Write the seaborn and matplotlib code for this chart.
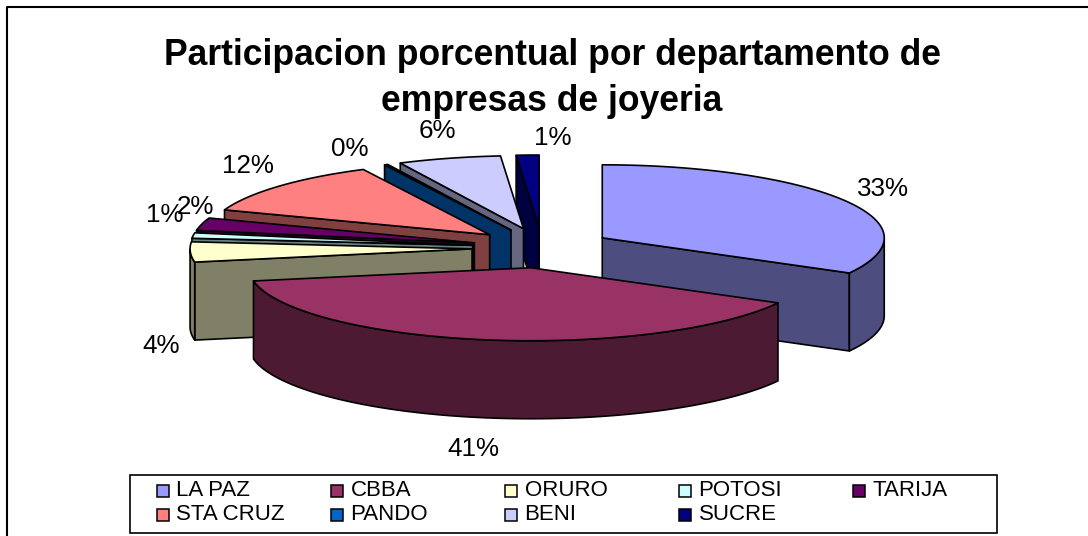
import numpy as np
import matplotlib
matplotlib.use("Agg")
import matplotlib.pyplot as plt
from matplotlib.patches import Polygon, Rectangle
from matplotlib.lines import Line2D
import seaborn as sns

departments = ["LA PAZ", "CBBA", "ORURO", "POTOSI", "TARIJA", "STA CRUZ", "PANDO", "BENI", "SUCRE"]
shares = [33.0, 40.6, 3.8, 1.0, 2.4, 11.8, 0.2, 5.9, 1.3]
slice_colors = ["#9999FF", "#993366", "#FFFFCC", "#CCFFFF", "#660066", "#FF8080", "#0066CC", "#CCCCFF", "#000080"]
title_text = "Participacion porcentual por departamento de\nempresas de joyeria"

sns.set_theme(style="white")
plt.rcParams["font.family"] = ["Liberation Sans", "DejaVu Sans"]
palette = sns.color_palette(slice_colors)

# pie geometry in pixels
CX, CY, RX, RY, DEPTH, EXPLODE_X, EXPLODE_Y = 542.0, 248.0, 282.0, 73.0, 78.0, 70.0, 20.0
label_pos = [(883, 189), (473, 449), (161, 346), (165, 215), (195, 207), (248, 166), (350, 149), (437, 131), (553, 138)]


def view_angle(t):
    """Excel's 3-D view squeezes the angles on the far left of the pie a little."""
    return t - np.radians(5.5) * np.exp(-((t - np.radians(262)) / np.radians(22)) ** 2)


fig = plt.figure(figsize=(10.88, 5.36), dpi=100)
ax = fig.add_axes([0, 0, 1, 1])
ax.set_xlim(0, 1088)
ax.set_ylim(536, 0)
ax.axis("off")

# chart frame: only the left and top borders are inside the picture
ax.add_line(Line2D([7, 7, 1088], [536, 6.5, 6.5], color="black", lw=1.5, zorder=1))

edges = view_angle(np.cumsum([0.0] + shares) / sum(shares) * 2 * np.pi)


def darker(c):
    return tuple(v * 0.5 for v in c)


wedges = []
for i, (a, b) in enumerate(zip(edges[:-1], edges[1:])):
    mid = (a + b) / 2
    ax0 = CX + EXPLODE_X * np.sin(mid)
    ay0 = CY - EXPLODE_Y * np.cos(mid)
    wedges.append((ay0, i, a, b, ax0))

for n, (ay0, i, a, b, ax0) in enumerate(sorted(wedges, key=lambda w: w[0])):
    col = palette[i]
    dark = darker(col)
    th = np.linspace(a, b, max(int((b - a) * 80), 3))
    px = ax0 + RX * np.sin(th)
    py = ay0 - RY * np.cos(th)
    z = 3 + n
    style = dict(ec="black", lw=1.2, joinstyle="round", zorder=z)
    # radial walls facing the viewer
    if np.sin(a) < -1e-9:
        ax.add_patch(Polygon([(ax0, ay0), (px[0], py[0]), (px[0], py[0] + DEPTH), (ax0, ay0 + DEPTH)], fc=dark, **style))
    if np.sin(b) > 1e-9:
        ax.add_patch(Polygon([(ax0, ay0), (px[-1], py[-1]), (px[-1], py[-1] + DEPTH), (ax0, ay0 + DEPTH)], fc=dark, **style))
    # outer wall, front half of the rim
    vis = np.cos(th) < 0
    if vis.sum() >= 2:
        vx, vy = px[vis], py[vis]
        ax.add_patch(Polygon(np.r_[np.c_[vx, vy], np.c_[vx[::-1], vy[::-1] + DEPTH]], fc=dark, **style))
    # top face
    ax.add_patch(Polygon(np.r_[[(ax0, ay0)], np.c_[px, py]], fc=col, **style))

for share, (lx, ly) in zip(shares, label_pos):
    ax.text(lx, ly, f"{share:.0f}%", ha="center", va="center", fontsize=18.7, color="black", zorder=30)

ax.text(552, 78.5, title_text, ha="center", va="center", fontsize=25.6, fontweight="bold", color="black",
        linespacing=1.4, zorder=30)

# legend
ax.add_patch(Rectangle((130, 474.5), 867, 58.5, fill=False, ec="black", lw=1.2, zorder=30))
for i, (name, col) in enumerate(zip(departments, palette)):
    row, c = divmod(i, 5)
    mx = 157 + c * 174
    my = 490.5 + row * 24.5
    ax.add_patch(Rectangle((mx, my - 6), 12, 12, fc=col, ec="black", lw=1.1, zorder=30))
    ax.text(mx + 19.5, my, name, ha="left", va="center", fontsize=16, color="black", zorder=30)

fig.savefig("out.png", dpi=100, facecolor="white")
